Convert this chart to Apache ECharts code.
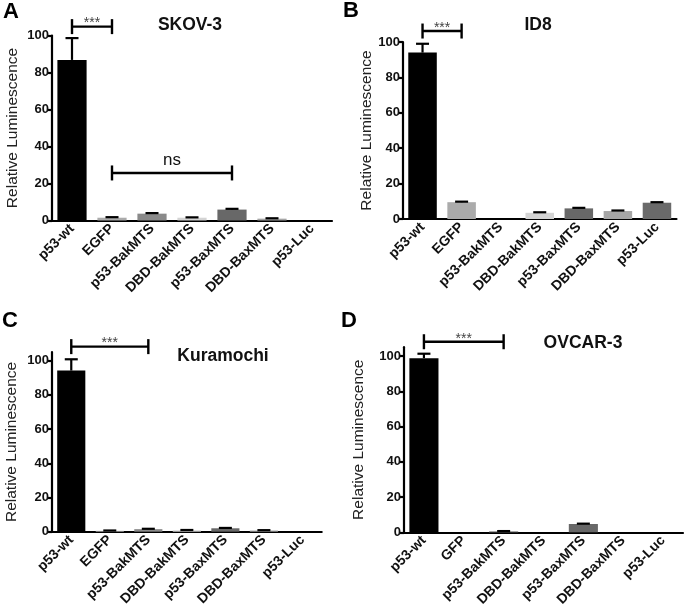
<!DOCTYPE html>
<html><head><meta charset="utf-8">
<script src="https://cdn.jsdelivr.net/npm/echarts@6/dist/echarts.min.js"></script>
<style>html,body{margin:0;padding:0;background:#fff}#c{width:685px;height:616px}</style>
</head><body><div id="c"></div>
<script>
const categoriesABC = ['p53-wt','EGFP','p53-BakMTS','DBD-BakMTS','p53-BaxMTS','DBD-BaxMTS','p53-Luc'];
const categoriesD = ['p53-wt','GFP','p53-BakMTS','DBD-BakMTS','p53-BaxMTS','DBD-BaxMTS','p53-Luc'];
const valuesA = [86.8,1.5,3.7,1.5,5.9,1.0,0];
const errorsA = [11.8,0.3,0.3,0.2,0.4,0.2,0];
const valuesB = [94,9.5,0,3.5,6.0,4.5,9.2];
const errorsB = [5,0.3,0,0.3,0.3,0.3,0.3];
const valuesC = [94.2,0.5,1.5,0.8,2.0,0.7,0];
const errorsC = [6.6,0.2,0.2,0.2,0.2,0.2,0];
const valuesD = [98.8,0,0.6,0,4.7,0,0];
const errorsD = [2.5,0,0.1,0,0.2,0,0];
const yTickValues = [0,20,40,60,80,100];
const titles = ['SKOV-3','ID8','Kuramochi','OVCAR-3'];
const panelLetters = ['A','B','C','D'];
const yAxisName = 'Relative Luminescence';
// significance brackets: [fromIndex, toIndex, yValue, label]
const bracketsA = [[0,1,104.8,'***'],[1,4,25.7,'ns']];
const bracketsB = [[0,1,106.2,'***']];
const bracketsC = [[0,2,108.2,'***']];
const bracketsD = [[0,2,108.1,'***']];
const barColors = ['#000000','#ababab','#8a8a8a','#d4d4d4','#686868','#a6a6a6','#6a6a6a'];

const FONT = '"Liberation Sans", Arial, Helvetica, sans-serif';
const panels = [
  {cats: categoriesABC, vals: valuesA, errs: errorsA, brackets: bracketsA,
   grid:{left:52, top:35.5, width:280, height:185}, max:100, nameGap:31, title:[190,25], letter:[11,12]},
  {cats: categoriesABC, vals: valuesB, errs: errorsB, brackets: bracketsB,
   grid:{left:403, top:42, width:273.5, height:177}, max:100, nameGap:28, title:[538,25], letter:[351,11]},
  {cats: categoriesABC, vals: valuesC, errs: errorsC, brackets: bracketsC,
   grid:{left:52, top:352.1, width:269.7, height:179.6}, max:105, nameGap:32, title:[223,356], letter:[10,321]},
  {cats: categoriesD, vals: valuesD, errs: errorsD, brackets: bracketsD,
   grid:{left:404, top:347.2, width:279, height:185.1}, max:105, nameGap:37, title:[583,343], letter:[349,321]}
];

function renderError(params, api){
  const e = api.value(2);
  if (!(e > 0)) return;
  const p0 = api.coord([api.value(0), api.value(1)]);
  const p1 = api.coord([api.value(0), api.value(1) + e]);
  const half = 6.5;
  return {type:'group', children:[
    {type:'line', shape:{x1:p0[0], y1:p0[1], x2:p1[0], y2:p1[1]}, style:{stroke:'#000', lineWidth:2.2}},
    {type:'line', shape:{x1:p1[0]-half, y1:p1[1], x2:p1[0]+half, y2:p1[1]}, style:{stroke:'#000', lineWidth:2.2}}
  ]};
}
function makeBracketRenderer(list){
  return function(params, api){
    const b = list[params.dataIndex];
    const a = api.coord([b[0], b[2]]);
    const c = api.coord([b[1], b[2]]);
    const t = 7.5;
    const isNs = b[3] === 'ns';
    return {type:'group', children:[
      {type:'line', shape:{x1:a[0], y1:a[1], x2:c[0], y2:c[1]}, style:{stroke:'#000', lineWidth:2.4}},
      {type:'line', shape:{x1:a[0], y1:a[1]-t, x2:a[0], y2:a[1]+t}, style:{stroke:'#000', lineWidth:2.4}},
      {type:'line', shape:{x1:c[0], y1:c[1]-t, x2:c[0], y2:c[1]+t}, style:{stroke:'#000', lineWidth:2.4}},
      {type:'text', x:(a[0]+c[0])/2, y: isNs ? a[1]-13 : a[1]-3,
       style:{text:b[3], align:'center', verticalAlign:'middle',
              font: isNs ? ('17px ' + FONT) : ('14px ' + FONT), fill: isNs ? '#111' : '#444'}}
    ]};
  };
}

const option = {animation:false, backgroundColor:'#fff', grid:[], xAxis:[], yAxis:[], series:[], graphic:[]};
panels.forEach((p, k) => {
  option.grid.push(Object.assign({containLabel:false}, p.grid));
  option.xAxis.push({
    type:'category', gridIndex:k, data:p.cats,
    axisLine:{lineStyle:{color:'#000', width:2.2}},
    axisTick:{alignWithLabel:true, length:5, lineStyle:{color:'#000', width:2.2}},
    axisLabel:{rotate:45, interval:0, margin:6, fontWeight:'bold', fontSize:14, color:'#111', fontFamily:FONT},
    splitLine:{show:false}
  });
  option.yAxis.push({
    type:'value', gridIndex:k, min:0, max:p.max, interval:20,
    name:yAxisName, nameLocation:'middle', nameGap:p.nameGap,
    nameTextStyle:{fontSize:15.5, color:'#222', fontFamily:FONT},
    axisLine:{show:true, lineStyle:{color:'#000', width:2.2}},
    axisTick:{show:true, length:5, customValues:yTickValues, lineStyle:{color:'#000', width:2.2}},
    axisLabel:{margin:3, customValues:yTickValues, fontWeight:'bold', fontSize:13, color:'#111', fontFamily:FONT},
    splitLine:{show:false}
  });
  option.series.push({
    type:'bar', xAxisIndex:k, yAxisIndex:k, barWidth:'73%',
    data:p.vals.map((v,i)=>({value:v, itemStyle:{color:barColors[i]}}))
  });
  option.series.push({
    type:'custom', xAxisIndex:k, yAxisIndex:k, clip:false, z:5,
    renderItem:renderError,
    data:p.vals.map((v,i)=>[i, v, p.errs[i]])
  });
  option.series.push({
    type:'custom', xAxisIndex:k, yAxisIndex:k, clip:false, z:5,
    renderItem:makeBracketRenderer(p.brackets),
    encode:{x:[0,1], y:2},
    data:p.brackets.map(b=>[b[0], b[1], b[2]])
  });
  option.graphic.push({type:'text', x:p.title[0], y:p.title[1],
    style:{text:titles[k], align:'center', verticalAlign:'middle', font:'bold 17.5px ' + FONT, fill:'#111'}});
  option.graphic.push({type:'text', x:p.letter[0], y:p.letter[1],
    style:{text:panelLetters[k], align:'center', verticalAlign:'middle', font:'bold 22px ' + FONT, fill:'#000'}});
});
const chart = echarts.init(document.getElementById('c'), null, {renderer:'canvas'});
chart.setOption(option);
</script>
</body></html>
